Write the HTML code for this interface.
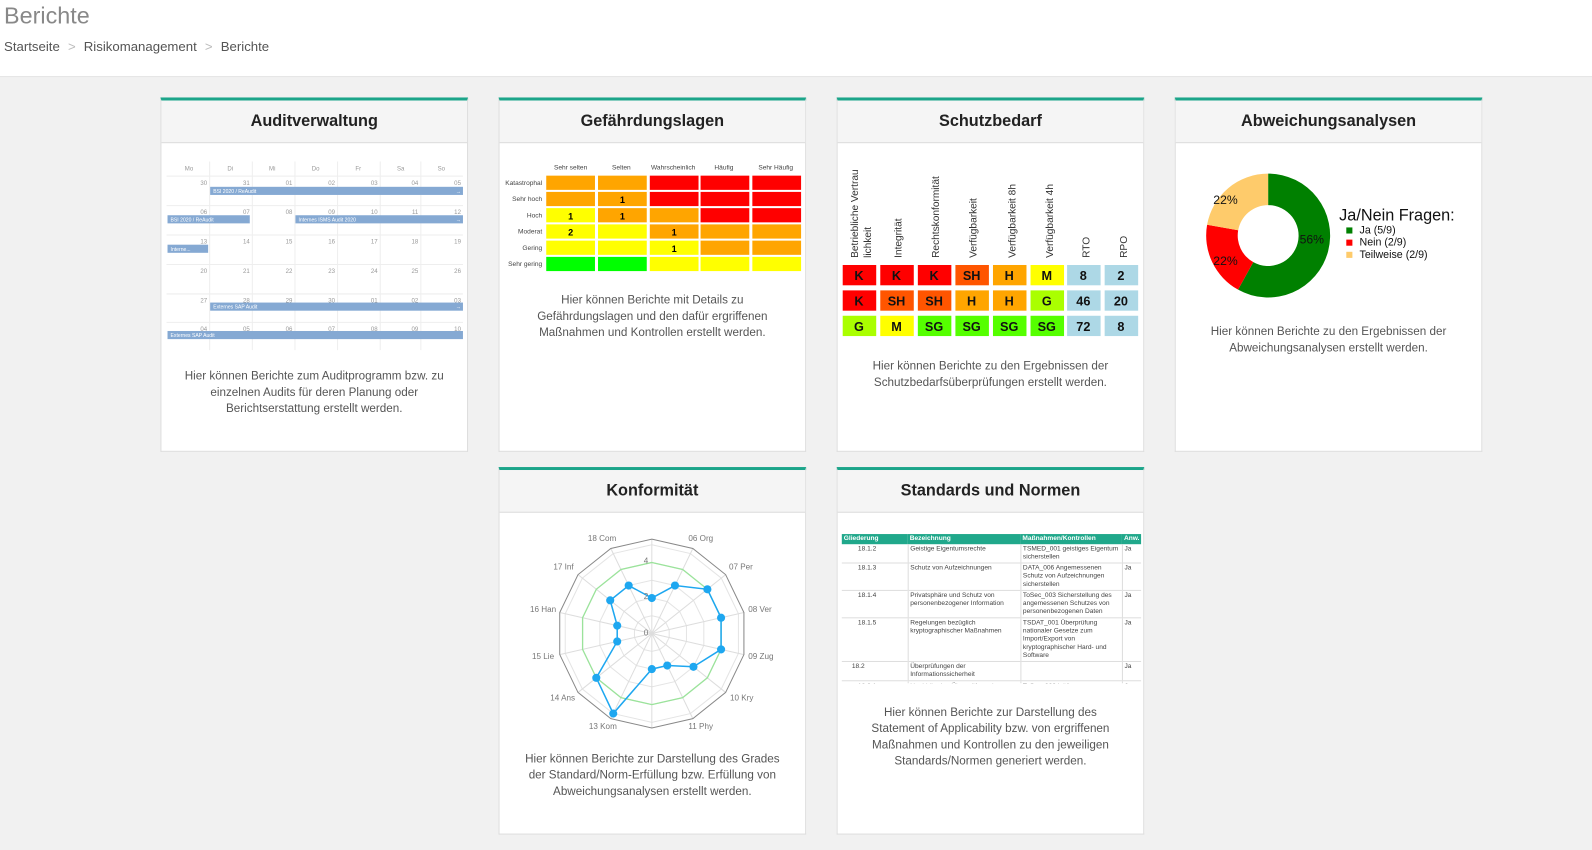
<!DOCTYPE html>
<html><head><meta charset="utf-8">
<style>
*{margin:0;padding:0;box-sizing:border-box}
html,body{width:1592px;height:850px;overflow:hidden}
body{background:#f1f1f1;font-family:"Liberation Sans",sans-serif;position:relative;color:#333}
#wrap{position:absolute;left:0;top:0;width:1568px;height:838px;transform:scale(1.01531);transform-origin:0 0}
.hdr{position:absolute;left:0;top:0;width:1568px;height:76px;background:#fff;border-bottom:1px solid #e2e2e2}
.hdr h1{position:absolute;left:4px;top:2px;font-weight:normal;font-size:23px;color:#888}
.bc{position:absolute;left:4px;top:38px;font-size:13px;color:#555}
.bc span{color:#bbb;margin:0 8px}
.card{position:absolute;width:303px;background:#fff;border:1px solid #ddd;border-top:3px solid #1ca58a}
.card .t{height:42px;background:#f5f5f5;border-bottom:1px solid #ddd;text-align:center;font-weight:bold;font-size:16px;line-height:42px;color:#222}
.desc{position:absolute;left:0;width:100%;text-align:center;font-size:11.5px;line-height:16px;color:#555}
.abs{position:absolute}
</style></head><body><div id="wrap">
<div class="hdr"><h1>Berichte</h1><div class="bc">Startseite<span>&gt;</span>Risikomanagement<span>&gt;</span>Berichte</div></div>

<!-- Auditverwaltung -->
<div class="card" style="left:158px;top:96px;height:349px"><div class="t">Auditverwaltung</div>
<svg class="abs" style="left:5px;top:60px" width="292" height="186" font-family="Liberation Sans" font-size="6" fill="#999">
<g stroke="#eee" stroke-width="1">
<line x1="0" y1="14.5" x2="292" y2="14.5"/>
<line x1="0" y1="43.5" x2="292" y2="43.5"/><line x1="0" y1="72.5" x2="292" y2="72.5"/><line x1="0" y1="101.5" x2="292" y2="101.5"/><line x1="0" y1="130.5" x2="292" y2="130.5"/><line x1="0" y1="158.5" x2="292" y2="158.5"/>
<line x1="42.5" y1="0" x2="42.5" y2="186"/><line x1="84.5" y1="0" x2="84.5" y2="186"/><line x1="126.5" y1="0" x2="126.5" y2="186"/><line x1="168.5" y1="0" x2="168.5" y2="186"/><line x1="210.5" y1="0" x2="210.5" y2="186"/><line x1="250.5" y1="0" x2="250.5" y2="186"/>
</g>
<text x="18" y="9">Mo</text><text x="60" y="9">Di</text><text x="101" y="9">Mi</text><text x="143" y="9">Do</text><text x="186" y="9">Fr</text><text x="227" y="9">Sa</text><text x="267" y="9">So</text>
<g text-anchor="end">
<text x="40" y="23">30</text><text x="82" y="23">31</text><text x="124" y="23">01</text><text x="166" y="23">02</text><text x="208" y="23">03</text><text x="248" y="23">04</text><text x="290" y="23">05</text>
<text x="40" y="52">06</text><text x="82" y="52">07</text><text x="124" y="52">08</text><text x="166" y="52">09</text><text x="208" y="52">10</text><text x="248" y="52">11</text><text x="290" y="52">12</text>
<text x="40" y="81">13</text><text x="82" y="81">14</text><text x="124" y="81">15</text><text x="166" y="81">16</text><text x="208" y="81">17</text><text x="248" y="81">18</text><text x="290" y="81">19</text>
<text x="40" y="110">20</text><text x="82" y="110">21</text><text x="124" y="110">22</text><text x="166" y="110">23</text><text x="208" y="110">24</text><text x="248" y="110">25</text><text x="290" y="110">26</text>
<text x="40" y="139">27</text><text x="82" y="139">28</text><text x="124" y="139">29</text><text x="166" y="139">30</text><text x="208" y="139">01</text><text x="248" y="139">02</text><text x="290" y="139">03</text>
<text x="40" y="167">04</text><text x="82" y="167">05</text><text x="124" y="167">06</text><text x="166" y="167">07</text><text x="208" y="167">08</text><text x="248" y="167">09</text><text x="290" y="167">10</text>
</g>
<g fill="#85a9d3">
<rect x="43" y="25" width="249" height="8"/><rect x="1" y="53" width="81" height="8"/><rect x="127" y="53" width="165" height="8"/><rect x="1" y="82" width="40" height="8"/><rect x="43" y="139" width="249" height="8"/><rect x="1" y="167" width="291" height="8"/>
</g>
<g fill="#fff" font-size="5">
<text x="46" y="31">BSI 2020 / ReAudit</text><text x="4" y="59">BSI 2020 / ReAudit</text><text x="130" y="59">Internes ISMS Audit 2020</text><text x="4" y="88">Interne...</text><text x="46" y="145">Externes SAP Audit</text><text x="4" y="173">Externes SAP Audit</text>
<text x="285" y="31">→</text><text x="285" y="59">→</text><text x="285" y="145">→</text></g>
</svg>
<div class="desc" style="top:264px">Hier können Berichte zum Auditprogramm bzw. zu<br>einzelnen Audits für deren Planung oder<br>Berichtserstattung erstellt werden.</div>
</div>

<!-- Gefährdungslagen -->
<div class="card" style="left:491px;top:96px;height:349px"><div class="t">Gefährdungslagen</div>
<svg class="abs" style="left:0;top:58px" width="302" height="115" font-family="Liberation Sans" font-size="6.5" fill="#444">
<g text-anchor="middle"><text x="70" y="10">Sehr selten</text><text x="120" y="10">Selten</text><text x="171" y="10">Wahrscheinlich</text><text x="221" y="10">Häufig</text><text x="272" y="10">Sehr Häufig</text></g>
<g text-anchor="end"><text x="42" y="25">Katastrophal</text><text x="42" y="41">Sehr hoch</text><text x="42" y="57">Hoch</text><text x="42" y="73">Moderat</text><text x="42" y="89">Gering</text><text x="42" y="105">Sehr gering</text></g>
<g>
<rect x="46" y="16" width="48" height="14" fill="#ffa500"/><rect x="97" y="16" width="48" height="14" fill="#ffa500"/><rect x="148" y="16" width="48" height="14" fill="#f00"/><rect x="198" y="16" width="48" height="14" fill="#f00"/><rect x="249" y="16" width="48" height="14" fill="#f00"/>
<rect x="46" y="32" width="48" height="14" fill="#ffa500"/><rect x="97" y="32" width="48" height="14" fill="#ffa500"/><rect x="148" y="32" width="48" height="14" fill="#f00"/><rect x="198" y="32" width="48" height="14" fill="#f00"/><rect x="249" y="32" width="48" height="14" fill="#f00"/>
<rect x="46" y="48" width="48" height="14" fill="#ff0"/><rect x="97" y="48" width="48" height="14" fill="#ffa500"/><rect x="148" y="48" width="48" height="14" fill="#ffa500"/><rect x="198" y="48" width="48" height="14" fill="#f00"/><rect x="249" y="48" width="48" height="14" fill="#f00"/>
<rect x="46" y="64" width="48" height="14" fill="#ff0"/><rect x="97" y="64" width="48" height="14" fill="#ff0"/><rect x="148" y="64" width="48" height="14" fill="#ffa500"/><rect x="198" y="64" width="48" height="14" fill="#ffa500"/><rect x="249" y="64" width="48" height="14" fill="#ffa500"/>
<rect x="46" y="80" width="48" height="14" fill="#ff0"/><rect x="97" y="80" width="48" height="14" fill="#ff0"/><rect x="148" y="80" width="48" height="14" fill="#ff0"/><rect x="198" y="80" width="48" height="14" fill="#ffa500"/><rect x="249" y="80" width="48" height="14" fill="#ffa500"/>
<rect x="46" y="96" width="48" height="14" fill="#0f0"/><rect x="97" y="96" width="48" height="14" fill="#0f0"/><rect x="148" y="96" width="48" height="14" fill="#ff0"/><rect x="198" y="96" width="48" height="14" fill="#ff0"/><rect x="249" y="96" width="48" height="14" fill="#ff0"/>
</g>
<g text-anchor="middle" font-weight="bold" font-size="9" fill="#000"><text x="121" y="43">1</text><text x="70" y="59">1</text><text x="121" y="59">1</text><text x="70" y="75">2</text><text x="172" y="75">1</text><text x="172" y="91">1</text></g>
</svg>
<div class="desc" style="top:189px">Hier können Berichte mit Details zu<br>Gefährdungslagen und den dafür ergriffenen<br>Maßnahmen und Kontrollen erstellt werden.</div>
</div>

<!-- Schutzbedarf -->
<div class="card" style="left:824px;top:96px;height:349px"><div class="t">Schutzbedarf</div>
<svg class="abs" style="left:0;top:58px" width="302" height="180" font-family="Liberation Sans" font-size="10" fill="#333">
<g>
<text transform="translate(20,97) rotate(-90)">Betriebliche Vertrau</text>
<text transform="translate(33,97) rotate(-90)">lichkeit</text>
<text transform="translate(63,97) rotate(-90)">Integrität</text>
<text transform="translate(100,97) rotate(-90)">Rechtskonformität</text>
<text transform="translate(137,97) rotate(-90)">Verfügbarkeit</text>
<text transform="translate(175,97) rotate(-90)">Verfügbarkeit 8h</text>
<text transform="translate(212,97) rotate(-90)">Verfügbarkeit 4h</text>
<text transform="translate(248,97) rotate(-90)">RTO</text>
<text transform="translate(285,97) rotate(-90)">RPO</text>
</g>
<g font-weight="bold" font-size="12.5" text-anchor="middle" fill="#111">
<rect x="5" y="104" width="33" height="20" fill="#f00"/><text x="21" y="119">K</text>
<rect x="42" y="104" width="33" height="20" fill="#f00"/><text x="58" y="119">K</text>
<rect x="79" y="104" width="33" height="20" fill="#f00"/><text x="95" y="119">K</text>
<rect x="116" y="104" width="33" height="20" fill="#f50"/><text x="132" y="119">SH</text>
<rect x="153" y="104" width="33" height="20" fill="#ffa500"/><text x="169" y="119">H</text>
<rect x="190" y="104" width="33" height="20" fill="#ff0"/><text x="206" y="119">M</text>
<rect x="226" y="104" width="33" height="20" fill="#add8e6"/><text x="242" y="119">8</text>
<rect x="263" y="104" width="33" height="20" fill="#add8e6"/><text x="279" y="119">2</text>
<rect x="5" y="129" width="33" height="20" fill="#f00"/><text x="21" y="144">K</text>
<rect x="42" y="129" width="33" height="20" fill="#f50"/><text x="58" y="144">SH</text>
<rect x="79" y="129" width="33" height="20" fill="#f50"/><text x="95" y="144">SH</text>
<rect x="116" y="129" width="33" height="20" fill="#ffa500"/><text x="132" y="144">H</text>
<rect x="153" y="129" width="33" height="20" fill="#ffa500"/><text x="169" y="144">H</text>
<rect x="190" y="129" width="33" height="20" fill="#af0"/><text x="206" y="144">G</text>
<rect x="226" y="129" width="33" height="20" fill="#add8e6"/><text x="242" y="144">46</text>
<rect x="263" y="129" width="33" height="20" fill="#add8e6"/><text x="279" y="144">20</text>
<rect x="5" y="154" width="33" height="20" fill="#af0"/><text x="21" y="169">G</text>
<rect x="42" y="154" width="33" height="20" fill="#ff0"/><text x="58" y="169">M</text>
<rect x="79" y="154" width="33" height="20" fill="#5f0"/><text x="95" y="169">SG</text>
<rect x="116" y="154" width="33" height="20" fill="#5f0"/><text x="132" y="169">SG</text>
<rect x="153" y="154" width="33" height="20" fill="#5f0"/><text x="169" y="169">SG</text>
<rect x="190" y="154" width="33" height="20" fill="#5f0"/><text x="206" y="169">SG</text>
<rect x="226" y="154" width="33" height="20" fill="#add8e6"/><text x="242" y="169">72</text>
<rect x="263" y="154" width="33" height="20" fill="#add8e6"/><text x="279" y="169">8</text>
</g></svg>
<div class="desc" style="top:254px">Hier können Berichte zu den Ergebnissen der<br>Schutzbedarfsüberprüfungen erstellt werden.</div>
</div>

<!-- Abweichungsanalysen -->
<div class="card" style="left:1157px;top:96px;height:349px"><div class="t">Abweichungsanalysen</div>
<svg class="abs" style="left:0;top:58px" width="302" height="150" font-family="Liberation Sans" fill="#111">
<g transform="translate(91,75)">
<path d="M0,-61 A61,61 0 1 1 -29.6,53.3 L-14.6,26.2 A30,30 0 1 0 0,-30 Z" fill="#008000"/>
<path d="M-29.6,53.3 A61,61 0 0 1 -60.1,-10.6 L-29.5,-5.2 A30,30 0 0 0 -14.6,26.2 Z" fill="#f00"/>
<path d="M-60.1,-10.6 A61,61 0 0 1 0,-61 L0,-30 A30,30 0 0 0 -29.5,-5.2 Z" fill="#fecb6b"/>
<text x="31" y="8" font-size="12">56%</text><text x="-54" y="29" font-size="12">22%</text><text x="-54" y="-31" font-size="12">22%</text>
</g>
<text x="161" y="60" font-size="16">Ja/Nein Fragen:</text>
<rect x="168" y="67" width="6" height="6" fill="#008000"/><text x="181" y="73" font-size="10.5">Ja (5/9)</text>
<rect x="168" y="79" width="6" height="6" fill="#f00"/><text x="181" y="85" font-size="10.5">Nein (2/9)</text>
<rect x="168" y="91" width="6" height="6" fill="#fecb6b"/><text x="181" y="97" font-size="10.5">Teilweise (2/9)</text>
</svg>
<div class="desc" style="top:220px">Hier können Berichte zu den Ergebnissen der<br>Abweichungsanalysen erstellt werden.</div>
</div>

<!-- Konformität -->
<div class="card" style="left:491px;top:460px;height:362px"><div class="t">Konformität</div>
<svg id="radar" class="abs" style="left:0;top:42px" width="302" height="222" font-family="Liberation Sans" font-size="8" fill="#777">
<g id="rg"></g>
<text x="87" y="28">18 Com</text><text x="186" y="28">06 Org</text>
<text x="53" y="56">17 Inf</text><text x="226" y="56">07 Per</text>
<text x="30" y="98">16 Han</text><text x="245" y="98">08 Ver</text>
<text x="32" y="144">15 Lie</text><text x="245" y="144">09 Zug</text>
<text x="50" y="185">14 Ans</text><text x="227" y="185">10 Kry</text>
<text x="88" y="213">13 Kom</text><text x="186" y="213">11 Phy</text>
<text x="142" y="50" font-size="8">4</text><text x="142" y="85" font-size="8">2</text><text x="142" y="121" font-size="8">0</text>
</svg>
<div class="desc" style="top:277px">Hier können Berichte zur Darstellung des Grades<br>der Standard/Norm-Erfüllung bzw. Erfüllung von<br>Abweichungsanalysen erstellt werden.</div>
</div>

<!-- Standards -->
<div class="card" style="left:824px;top:460px;height:362px"><div class="t">Standards und Normen</div>
<div class="abs" style="left:4px;top:63px;width:295px;height:147px;overflow:hidden;font-size:6.5px;line-height:8px;color:#444">
<table style="border-collapse:collapse;width:295px;table-layout:fixed">
<colgroup><col style="width:65px"><col style="width:111px"><col style="width:100px"><col style="width:19px"></colgroup>
<tr style="background:#20a88b;color:#fff;font-weight:bold;height:10px"><td style="padding:0 2px">Gliederung</td><td style="padding:0 2px">Bezeichnung</td><td style="padding:0 2px">Maßnahmen/Kontrollen</td><td style="padding:0 2px">Anw.</td></tr>
<tr style="border-bottom:1px solid #ddd;vertical-align:top"><td style="padding:1px 2px 1px 16px;border-right:1px solid #ddd">18.1.2</td><td style="padding:1px 2px;border-right:1px solid #ddd">Geistige Eigentumsrechte</td><td style="padding:1px 2px;border-right:1px solid #ddd">TSMED_001 geistiges Eigentum sicherstellen</td><td style="padding:1px 2px">Ja</td></tr>
<tr style="border-bottom:1px solid #ddd;vertical-align:top"><td style="padding:1px 2px 1px 16px;border-right:1px solid #ddd">18.1.3</td><td style="padding:1px 2px;border-right:1px solid #ddd">Schutz von Aufzeichnungen</td><td style="padding:1px 2px;border-right:1px solid #ddd">DATA_006 Angemessenen Schutz von Aufzeichnungen sicherstellen</td><td style="padding:1px 2px">Ja</td></tr>
<tr style="border-bottom:1px solid #ddd;vertical-align:top"><td style="padding:1px 2px 1px 16px;border-right:1px solid #ddd">18.1.4</td><td style="padding:1px 2px;border-right:1px solid #ddd">Privatsphäre und Schutz von personenbezogener Information</td><td style="padding:1px 2px;border-right:1px solid #ddd">ToSec_003 Sicherstellung des angemessenen Schutzes von personenbezogenen Daten</td><td style="padding:1px 2px">Ja</td></tr>
<tr style="border-bottom:1px solid #ddd;vertical-align:top"><td style="padding:1px 2px 1px 16px;border-right:1px solid #ddd">18.1.5</td><td style="padding:1px 2px;border-right:1px solid #ddd">Regelungen bezüglich kryptographischer Maßnahmen</td><td style="padding:1px 2px;border-right:1px solid #ddd">TSDAT_001 Überprüfung nationaler Gesetze zum Import/Export von kryptographischer Hard- und Software</td><td style="padding:1px 2px">Ja</td></tr>
<tr style="border-bottom:1px solid #ddd;vertical-align:top"><td style="padding:1px 2px 1px 10px;border-right:1px solid #ddd">18.2</td><td style="padding:1px 2px;border-right:1px solid #ddd">Überprüfungen der Informationssicherheit</td><td style="padding:1px 2px;border-right:1px solid #ddd"></td><td style="padding:1px 2px">Ja</td></tr>
<tr style="vertical-align:top"><td style="padding:1px 2px 1px 16px;border-right:1px solid #ddd">18.2.1</td><td style="padding:1px 2px;border-right:1px solid #ddd">Unabhängige Überprüfung der</td><td style="padding:1px 2px;border-right:1px solid #ddd">ToSec_002 Initiierung</td><td style="padding:1px 2px">Ja</td></tr>
</table></div>
<div class="desc" style="top:231px">Hier können Berichte zur Darstellung des<br>Statement of Applicability bzw. von ergriffenen<br>Maßnahmen und Kontrollen zu den jeweiligen<br>Standards/Normen generiert werden.</div>
</div>
</div>
<script>
(function(){
var g=document.getElementById('rg'),cx=150,cy=119,n=14,u=17.5,R=93,s='';
function pt(i,r){var a=i*2*Math.PI/n;return [(cx+r*Math.sin(a)).toFixed(1),(cy-r*Math.cos(a)).toFixed(1)];}
function poly(r,st,w){var p=[];for(var i=0;i<n;i++)p.push(pt(i,r).join(','));return '<polygon points="'+p.join(' ')+'" fill="none" stroke="'+st+'" stroke-width="'+w+'"/>';}
for(var k=1;k<=5;k++) s+=poly(k*u,'#e4e4e4',1);
for(var i=0;i<n;i++){var q=pt(i,R);s+='<line x1="'+cx+'" y1="'+cy+'" x2="'+q[0]+'" y2="'+q[1]+'" stroke="#ddd"/>';}
s+=poly(4*u,'#9be39b',1.3);
s+=poly(R,'#888',1);
var v=[2,3,4,4,4,3,2,2,5,4,2,2,3,3],p=[],c='';
for(var i=0;i<n;i++){var q=pt(i,v[i]*u);p.push(q.join(','));c+='<circle cx="'+q[0]+'" cy="'+q[1]+'" r="4" fill="#1ea7f0"/>';}
s+='<polygon points="'+p.join(' ')+'" fill="none" stroke="#1ea7f0" stroke-width="1.5"/>'+c;
g.innerHTML=s;
})();
</script>
</body></html>
